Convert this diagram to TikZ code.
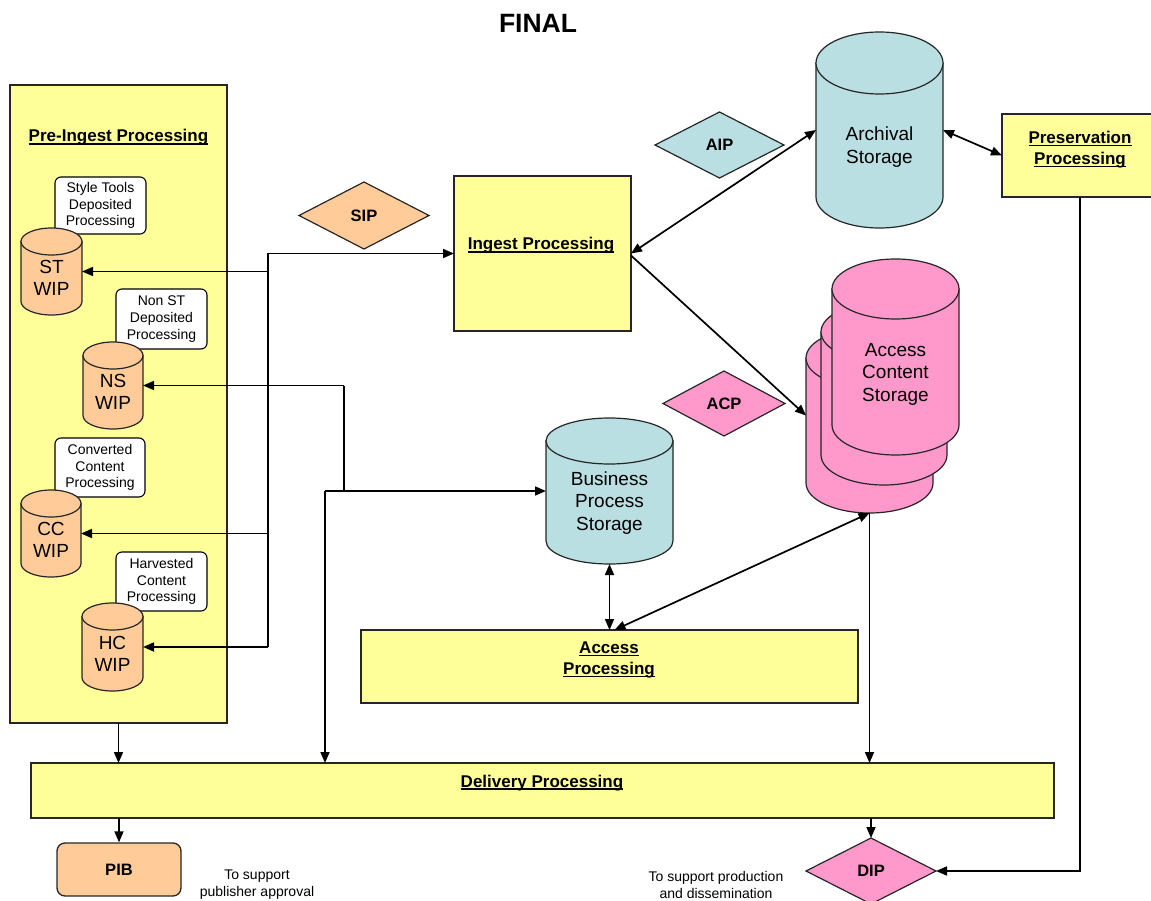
\documentclass[tikz,border=0pt]{standalone}
\usepackage{fontspec}
\setmainfont{Liberation Sans}
\usetikzlibrary{shapes.geometric, arrows.meta}
\definecolor{pyellow}{HTML}{FFFF99}
\definecolor{porange}{HTML}{FFCC99}
\definecolor{pblue}{HTML}{B9DFE2}
\definecolor{ppink}{HTML}{FF99CC}
\newlength\ulw
\newcommand\ulx[1]{\settowidth\ulw{#1}\rlap{\rule[-2.8pt]{\ulw}{1.4pt}}#1}
\tikzset{
 box/.style={draw=black!85, line width=1.3pt, fill=pyellow, inner sep=0pt, outer sep=0pt},
 lbl/.style={font=\fontsize{17}{21}\selectfont\bfseries, align=center, inner sep=0pt},
 note/.style={draw, rounded corners=6pt, fill=white, line width=1.1pt, inner sep=0pt, align=center, font=\fontsize{14}{16.8}\selectfont},
 cylt/.style={font=\fontsize{19}{22.5}\selectfont, align=center, inner sep=0pt},
 cylline/.style={draw=black!85, line width=1.2pt},
 dia/.style={diamond, draw=black!85, line width=1.2pt, inner sep=0pt, outer sep=0pt, font=\fontsize{16.5}{19}\selectfont\bfseries},
 conn/.style={line width=1.7pt},
 arr/.style={conn, -{Triangle[length=11pt,width=9pt]}},
 darr/.style={conn, {Triangle[length=11pt,width=9pt]}-{Triangle[length=11pt,width=9pt]}},
 small/.style={font=\fontsize{14}{17}\selectfont, align=center, inner sep=0pt}
}
% name, x1, top, x2, bottom, ry, fill
\newcommand\cyl[7]{%
  \filldraw[cylline, fill=#7] (#2,-#3-#6) -- (#2,-#5+#6) arc[start angle=180, end angle=360, x radius={(#4-#2)/2}, y radius=#6] -- (#4,-#3-#6) -- cycle;
  \filldraw[cylline, fill=#7] ({(#2+#4)/2},-#3-#6) ellipse[x radius={(#4-#2)/2}, y radius=#6];
  \node[inner sep=0pt, outer sep=0pt, minimum width={(#4-#2)*1pt}, minimum height={(#5-#3)*1pt}] (#1) at ({(#2+#4)/2},{-(#3+#5)/2}) {};
}
\begin{document}
\begin{tikzpicture}[x=1pt,y=1pt]
\useasboundingbox (0,0) rectangle (1151,-901);
% title
\node[font=\fontsize{26.5}{30}\selectfont\bfseries, anchor=base, inner sep=0pt] (title) at (538,-33) {FINAL};

% pre-ingest
\node[box, minimum width=217pt, minimum height=638pt] (pre) at (118.5,-404) {};
\node[lbl, anchor=base] (pre-t) at (118.5,-142) {\ulx{Pre-Ingest Processing}};

\node[note, minimum width=91pt, minimum height=57pt] (n1) at (100.5,-205.5) {Style Tools\\Deposited\\Processing};
\node[note, minimum width=91pt, minimum height=60pt] (n2) at (161.5,-319) {Non ST\\Deposited\\Processing};
\node[note, minimum width=90pt, minimum height=59pt] (n3) at (100,-467.5) {Converted\\Content\\Processing};
\node[note, minimum width=91pt, minimum height=59pt] (n4) at (161.5,-581.5) {Harvested\\Content\\Processing};

\cyl{st}{21}{228}{82}{315}{13.5}{porange}
\node[cylt] (st-t) at (51.5,-278) {ST\\WIP};
\cyl{ns}{83}{342}{143}{429}{13.5}{porange}
\node[cylt] (ns-t) at (113,-392) {NS\\WIP};
\cyl{cc}{21}{490}{81}{577}{13.5}{porange}
\node[cylt] (cc-t) at (51,-540) {CC\\WIP};
\cyl{hc}{82}{603}{143}{691}{13.5}{porange}
\node[cylt] (hc-t) at (112.5,-654) {HC\\WIP};

% ingest
\node[box, minimum width=177pt, minimum height=155pt] (ingest) at (542.5,-253.5) {};
\node[lbl, anchor=base] (ingest-t) at (541,-250) {\ulx{Ingest Processing}};
\node[dia, fill=porange, minimum width=130pt, minimum height=67pt] (sip) at (364,-215.5) {SIP};

% archival
\cyl{arch}{816}{32}{943}{228}{31}{pblue}
\node[cylt] (arch-t) at (879.5,-147) {Archival\\Storage};
\node[dia, fill=pblue, minimum width=129pt, minimum height=66pt] (aip) at (719.5,-145) {AIP};

% preservation
\node[box, minimum width=156pt, minimum height=83pt] (pres) at (1080,-155.5) {};
\node[lbl] (pres-t) at (1080,-149.5) {\ulx{Preservation}\\\ulx{Processing}};

% access content storage
\cyl{acs}{806}{328}{933}{513}{30}{ppink}
\cyl{acs2}{821}{302}{947}{485}{30}{ppink}
\cyl{acs3}{832}{259}{959}{455}{30}{ppink}
\node[cylt] (acs-t) at (895.5,-374) {Access\\Content\\Storage};
\node[dia, fill=ppink, minimum width=122pt, minimum height=65pt] (acp) at (724,-403.5) {ACP};

% business
\cyl{bps}{546}{418}{673}{564}{23}{pblue}
\node[cylt] (bps-t) at (609.5,-503) {Business\\Process\\Storage};

% access processing
\node[box, minimum width=497pt, minimum height=73pt] (access) at (609.5,-666.5) {};
\node[lbl] (access-t) at (609,-660) {\ulx{Access}\\\ulx{Processing}};

% delivery
\node[box, minimum width=1023pt, minimum height=55pt] (delivery) at (542.5,-790.5) {};
\node[lbl, anchor=base] (delivery-t) at (542,-787) {\ulx{Delivery Processing}};

% outputs
\node[draw=black!85, line width=1.3pt, fill=porange, rounded corners=8pt, minimum width=124pt, minimum height=53pt, inner sep=0pt, font=\fontsize{16.5}{19}\selectfont\bfseries] (pib) at (119,-869.5) {PIB};
\node[small] (pib-note) at (257,-885) {To support\\publisher approval};
\node[dia, fill=ppink, minimum width=130pt, minimum height=66pt] (dip) at (871,-871) {DIP};
\node[small] (dip-note) at (716,-885) {To support production\\and dissemination};

% connectors: WIP network
\coordinate (jn) at (268,-253.5);
\draw[arr] (jn) -- (ingest.west);
\draw[conn] (jn) -- (jn |- hc.east);
\draw[arr] (jn |- st.east) -- (st.east);
\draw[arr] (jn |- cc.east) -- (cc.east);
\draw[arr] (jn |- hc.east) -- (hc.east);

% NS / business network
\coordinate (nsj) at (344,-385.5);
\coordinate (bj) at (325,-491);
\draw[arr] (nsj) -- (ns.east);
\draw[conn] (nsj) -- (nsj |- bj);
\draw[arr] (bj) -- (bps.west);
\draw[arr] (bj) -- (bj |- delivery.north);

% ingest links
\draw[darr] (ingest.east) -- (arch.west);
\draw[arr] ([yshift=-2pt]ingest.east) -- ([yshift=5pt]acs.west);
\draw[darr] (arch.east) -- (pres.west);
\draw[arr] (pres.south) |- (dip.east);

% access links
\draw[darr] (bps.south) -- (access.north);
\draw[darr] ([xshift=5pt]access.north) -- (acs.south);
\draw[arr] (acs.south) -- (acs.south |- delivery.north);

% delivery links
\draw[arr] (pre.south) -- (pre.south |- delivery.north);
\draw[arr] (pib.north |- delivery.south) -- (pib.north);
\draw[arr] (dip.north |- delivery.south) -- (dip.north);
\end{tikzpicture}
\end{document}
